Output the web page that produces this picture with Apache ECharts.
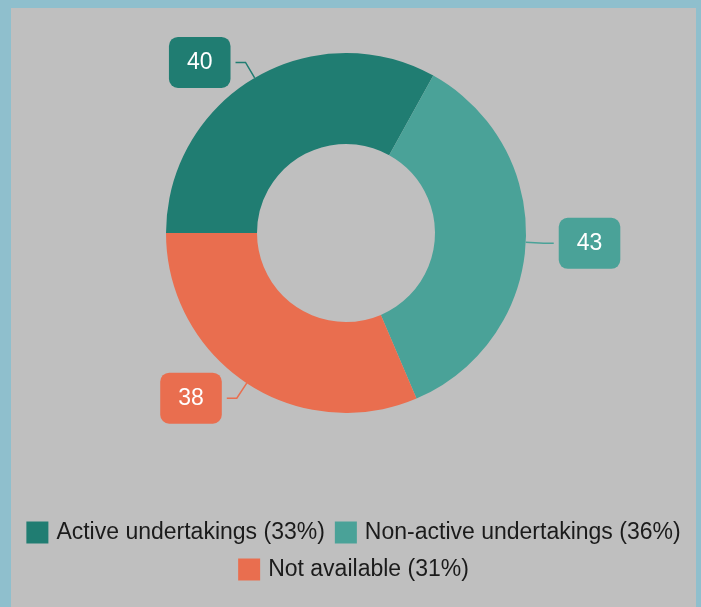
<!DOCTYPE html>
<html>
<head>
<meta charset="utf-8">
<script src="https://cdn.jsdelivr.net/npm/echarts@6/dist/echarts.min.js"></script>
<style>
  html, body { margin: 0; padding: 0; background: #8fbfcd; }
  #chart { position: absolute; left: 11px; top: 8px; width: 685px; height: 599px; background: #bfbfbf; }
</style>
</head>
<body>
<div id="chart"></div>
<script>
const categories = ['Active undertakings', 'Non-active undertakings', 'Not available'];
const values = [40, 43, 38];
const colors = ['#207d72', '#4aa298', '#e96e4f'];

const total = values.reduce((a, b) => a + b, 0);
const chart = echarts.init(document.getElementById('chart'));

function legendName(name) {
  const i = categories.indexOf(name);
  return name + ' (' + Math.round(values[i] / total * 100) + '%)';
}

const legendBase = {
  left: 'center',
  itemWidth: 22,
  itemHeight: 22,
  itemGap: 10,
  icon: 'rect',
  textStyle: { fontSize: 23, color: '#1b1b1b', padding: [0, 0, 0, 3] },
  formatter: legendName
};

const option = {
  backgroundColor: '#bfbfbf',
  textStyle: { fontFamily: 'Liberation Sans, Arial, sans-serif' },
  color: colors,
  legend: [
    Object.assign({}, legendBase, { top: 508, data: categories.slice(0, 2) }),
    Object.assign({}, legendBase, { top: 545, data: categories.slice(2) })
  ],
  series: [
    {
      type: 'pie',
      center: [335, 225],
      radius: [89, 180],
      startAngle: 180,
      clockwise: true,
      avoidLabelOverlap: false,
      label: {
        show: true,
        position: 'outside',
        formatter: '{c}',
        color: '#fff',
        fontSize: 23,
        padding: [14, 18],
        borderRadius: 9
      },
      labelLine: {
        show: true,
        length: 18,
        length2: 10,
        lineStyle: { width: 1.5 }
      },
      emphasis: { scale: false },
      data: categories.map((c, i) => ({
        name: c,
        value: values[i],
        itemStyle: { color: colors[i] },
        label: { backgroundColor: colors[i] }
      }))
    }
  ]
};

chart.setOption(option);
window.addEventListener('resize', function () { chart.resize(); });
</script>
</body>
</html>
